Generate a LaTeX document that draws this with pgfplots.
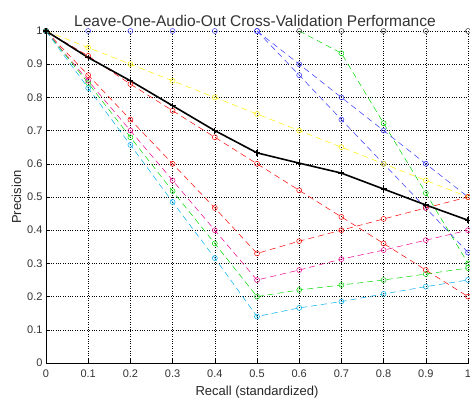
\documentclass[border=0pt]{standalone}
\usepackage{pgfplots}
\pgfplotsset{compat=1.18}
\usepackage{fontspec}
\setmainfont{Liberation Sans}
\begin{document}
\begin{tikzpicture}
\begin{axis}[
  at={(0,0)}, anchor=south west,
  width=422pt, height=332pt, scale only axis,
  xmin=0, xmax=1, ymin=0, ymax=1,
  axis x line*=bottom, axis y line*=left,
  xtick={0,0.1,...,1.01}, ytick={0,0.1,...,1.01},
  xticklabels={0,0.1,0.2,0.3,0.4,0.5,0.6,0.7,0.8,0.9,1},
  yticklabels={0,0.1,0.2,0.3,0.4,0.5,0.6,0.7,0.8,0.9,1},
  tick align=inside, major tick length=4pt,
  grid=major, grid style={black, dotted, line width=0.6pt},
  axis line style={black, line width=0.6pt, -},
  tick style={black, line width=0.6pt},
  ticklabel style={font=\fontsize{11}{13}\selectfont, text=black!80},
  xticklabel style={yshift=-3pt},
  title={Leave-One-Audio-Out Cross-Validation Performance},
  title style={font=\fontsize{15.5}{17}\selectfont, text=black!80, yshift=-5pt, xshift=-2pt},
  xlabel={Recall (standardized)},
  ylabel={Precision},
  label style={font=\fontsize{13}{15}\selectfont, text=black!85},
  xlabel style={yshift=-2pt},
  ylabel style={yshift=-1pt},
  every axis plot/.append style={line width=0.5pt, dash pattern=on 6pt off 4pt, mark=o, mark size=2.5pt, mark options={solid}},
  clip=false,
]
% upper green
\addplot[green!85!black, mark indices={2,3,4,5}] coordinates {(0.6,1)(0.7,0.933)(0.8,0.722)(0.9,0.512)(1,0.30)};
% black circles at precision 1
\addplot[black!80, only marks] coordinates {(0.6,1)(0.7,1)(0.8,1)(0.9,1)(1,1)};
% blue circles at precision 1
\addplot[blue!80, only marks] coordinates {(0.1,1)(0.2,1)(0.3,1)(0.4,1)};
% blue A
\addplot[blue!80] coordinates {(0.5,1)(0.6,0.90)(0.7,0.80)(0.8,0.70)(0.9,0.60)(1,0.50)};
% blue B
\addplot[blue!80] coordinates {(0.5,1)(0.6,0.867)(0.7,0.733)(0.8,0.60)(0.9,0.467)(1,0.333)};
% yellow
\addplot[yellow] coordinates {(0,1)(0.1,0.95)(0.2,0.90)(0.3,0.85)(0.4,0.80)(0.5,0.75)(0.6,0.70)(0.7,0.65)(0.8,0.60)(0.9,0.55)(1,0.50)};
% red upper
\addplot[red] coordinates {(0,1)(0.1,0.925)(0.2,0.84)(0.3,0.76)(0.4,0.68)(0.5,0.60)(0.6,0.52)(0.7,0.44)(0.8,0.36)(0.9,0.28)(1,0.20)};
% red lower
\addplot[red] coordinates {(0,1)(0.1,0.867)(0.2,0.733)(0.3,0.60)(0.4,0.467)(0.5,0.33)(0.6,0.367)(0.7,0.40)(0.8,0.434)(0.9,0.467)(1,0.50)};
% magenta
\addplot[magenta] coordinates {(0,1)(0.1,0.85)(0.2,0.70)(0.3,0.55)(0.4,0.40)(0.5,0.25)(0.6,0.28)(0.7,0.313)(0.8,0.34)(0.9,0.37)(1,0.40)};
% green lower
\addplot[green!85!black] coordinates {(0,1)(0.1,0.843)(0.2,0.68)(0.3,0.518)(0.4,0.36)(0.5,0.20)(0.6,0.22)(0.7,0.235)(0.8,0.25)(0.9,0.268)(1,0.286)};
% cyan
\addplot[cyan] coordinates {(0,1)(0.1,0.828)(0.2,0.657)(0.3,0.485)(0.4,0.316)(0.5,0.14)(0.6,0.166)(0.7,0.185)(0.8,0.208)(0.9,0.23)(1,0.25)};
% mean (black)
\addplot[black, solid, line width=1.6pt, mark=+, mark size=3pt, mark options={solid, line width=1.2pt}] coordinates {(0,1)(0.1,0.92)(0.2,0.85)(0.3,0.775)(0.4,0.70)(0.5,0.633)(0.6,0.602)(0.7,0.572)(0.8,0.524)(0.9,0.476)(1,0.43)};
\end{axis}
\pgfresetboundingbox
\path[use as bounding box] (-46pt,-42pt) rectangle (424pt,363pt);
\end{tikzpicture}
\end{document}
